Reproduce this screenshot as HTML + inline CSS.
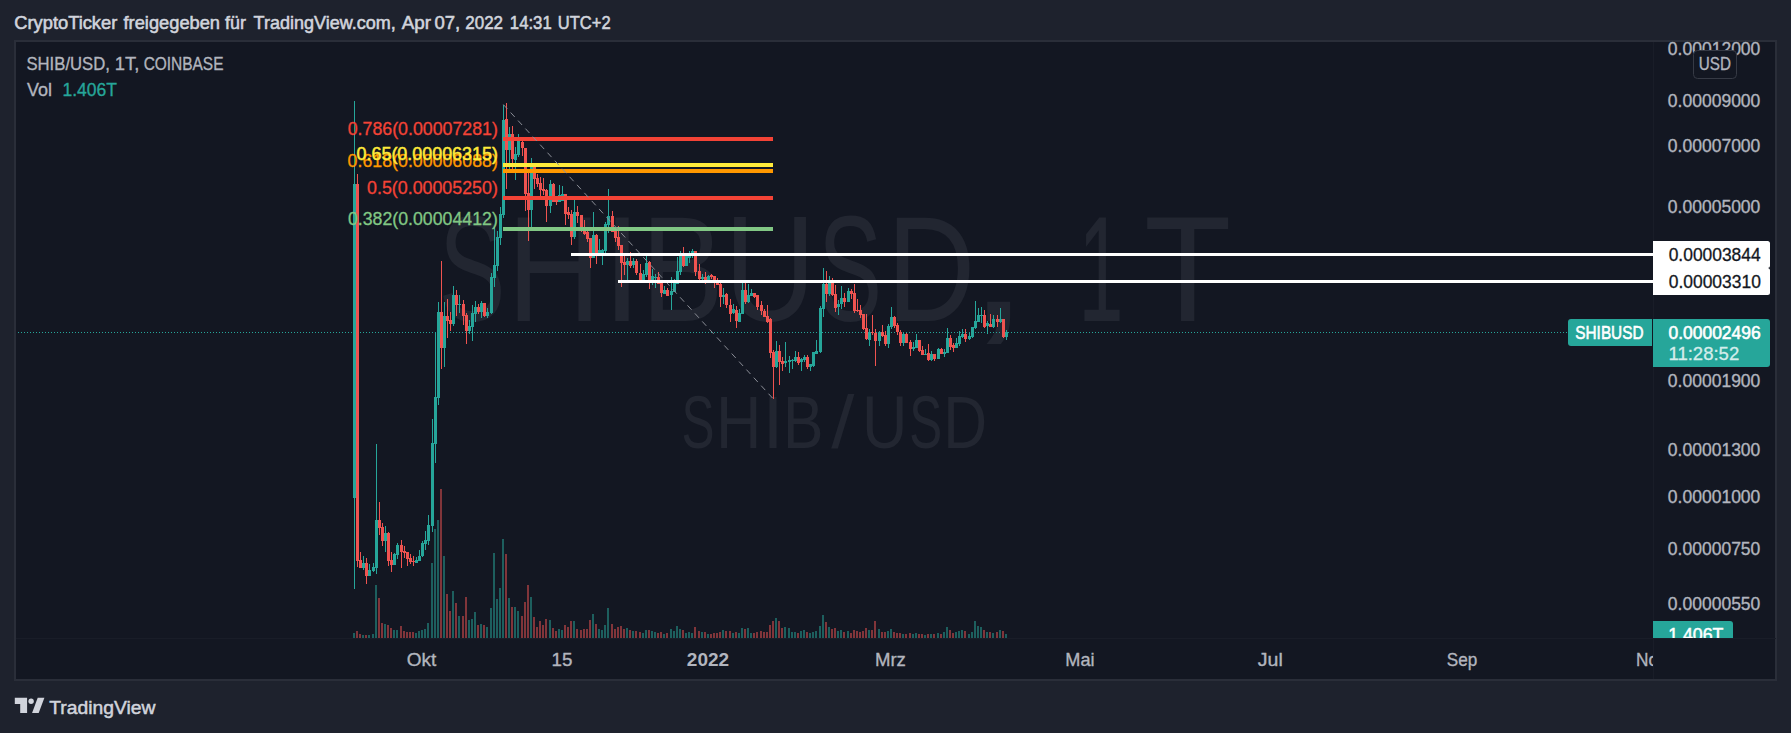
<!DOCTYPE html>
<html lang="de"><head><meta charset="utf-8"><title>SHIB/USD, 1T, COINBASE</title>
<style>
html,body{margin:0;padding:0;background:#1e222d;overflow:hidden}
svg{display:block}
text{font-family:"Liberation Sans", Arial, sans-serif;white-space:pre}
</style></head><body>
<svg width="1791" height="733" viewBox="0 0 1791 733">
<rect x="0" y="0" width="1791" height="733" fill="#1e222d"/>
<rect x="15" y="41" width="1761" height="639" fill="#131722" stroke="#2a2e39" stroke-width="2"/>

<text y="321.3" font-size="151" fill="#222631"><tspan x="438.8" textLength="66.64" lengthAdjust="spacingAndGlyphs">S</tspan><tspan x="507.03" textLength="94.31" lengthAdjust="spacingAndGlyphs">H</tspan><tspan x="602.1" textLength="39.95" lengthAdjust="spacingAndGlyphs">I</tspan><tspan x="641.32" textLength="82.29" lengthAdjust="spacingAndGlyphs">B</tspan><tspan x="724.18" textLength="91.5" lengthAdjust="spacingAndGlyphs">U</tspan><tspan x="818.08" textLength="63.99" lengthAdjust="spacingAndGlyphs">S</tspan><tspan x="886.79" textLength="88.49" lengthAdjust="spacingAndGlyphs">D</tspan></text>
<text x="965.0" y="321.3" font-size="180" fill="#222631" textLength="66.68" lengthAdjust="spacingAndGlyphs">,</text>
<text y="321.3" font-size="151" fill="#222631"><tspan x="1078.3" textLength="45.27" lengthAdjust="spacingAndGlyphs">1</tspan><tspan x="1144.08" textLength="87.36" lengthAdjust="spacingAndGlyphs">T</tspan></text>
<text y="447.6" font-size="75" fill="#222631"><tspan x="681.57" textLength="33.03" lengthAdjust="spacingAndGlyphs">S</tspan><tspan x="716.02" textLength="45.34" lengthAdjust="spacingAndGlyphs">H</tspan><tspan x="762.5" textLength="21.03" lengthAdjust="spacingAndGlyphs">I</tspan><tspan x="782.9" textLength="40.46" lengthAdjust="spacingAndGlyphs">B</tspan><tspan x="831.2" textLength="23.13" lengthAdjust="spacingAndGlyphs">/</tspan><tspan x="861.92" textLength="45.43" lengthAdjust="spacingAndGlyphs">U</tspan><tspan x="909.18" textLength="32.92" lengthAdjust="spacingAndGlyphs">S</tspan><tspan x="943.19" textLength="43.88" lengthAdjust="spacingAndGlyphs">D</tspan></text>
<rect x="1653" y="42" width="1" height="637" fill="#191d28"/>
<rect x="16" y="638" width="1760" height="1" fill="#191d28"/>
<path d="M18 332.5H1568" stroke="#26a69a" stroke-width="1" stroke-dasharray="1 2" fill="none"/>
<path fill="#1d5f5e" d="M353 633h2V638h-2zM362 635h2V638h-2zM368 635h2V638h-2zM372 634h2V638h-2zM375 585h2V638h-2zM384 624h2V638h-2zM393 630h2V638h-2zM396 630h2V638h-2zM415 633h2V638h-2zM418 631h2V638h-2zM421 630h2V638h-2zM424 629h2V638h-2zM427 623h2V638h-2zM431 563h2V638h-2zM434 529h2V638h-2zM437 520h2V638h-2zM443 556h2V638h-2zM452 591h2V638h-2zM458 616h2V638h-2zM468 620h2V638h-2zM471 619h2V638h-2zM474 612h2V638h-2zM480 624h2V638h-2zM486 627h2V638h-2zM490 608h2V638h-2zM493 553h2V638h-2zM496 599h2V638h-2zM499 588h2V638h-2zM502 539h2V638h-2zM508 598h2V638h-2zM514 607h2V638h-2zM517 611h2V638h-2zM530 597h2V638h-2zM549 620h2V638h-2zM558 629h2V638h-2zM561 630h2V638h-2zM573 621h2V638h-2zM592 614h2V638h-2zM598 629h2V638h-2zM601 630h2V638h-2zM604 625h2V638h-2zM607 608h2V638h-2zM626 628h2V638h-2zM632 631h2V638h-2zM642 633h2V638h-2zM645 630h2V638h-2zM651 631h2V638h-2zM654 632h2V638h-2zM663 634h2V638h-2zM670 629h2V638h-2zM673 631h2V638h-2zM676 626h2V638h-2zM679 629h2V638h-2zM685 633h2V638h-2zM688 632h2V638h-2zM691 633h2V638h-2zM701 632h2V638h-2zM707 634h2V638h-2zM722 630h2V638h-2zM732 633h2V638h-2zM738 633h2V638h-2zM741 628h2V638h-2zM747 628h2V638h-2zM750 633h2V638h-2zM775 618h2V638h-2zM784 627h2V638h-2zM788 628h2V638h-2zM791 632h2V638h-2zM794 632h2V638h-2zM800 631h2V638h-2zM803 630h2V638h-2zM809 633h2V638h-2zM812 632h2V638h-2zM815 631h2V638h-2zM819 626h2V638h-2zM822 615h2V638h-2zM828 627h2V638h-2zM837 631h2V638h-2zM840 630h2V638h-2zM847 631h2V638h-2zM868 630h2V638h-2zM878 629h2V638h-2zM887 631h2V638h-2zM890 629h2V638h-2zM902 634h2V638h-2zM912 634h2V638h-2zM915 633h2V638h-2zM924 635h2V638h-2zM930 634h2V638h-2zM937 633h2V638h-2zM943 632h2V638h-2zM946 627h2V638h-2zM955 632h2V638h-2zM958 631h2V638h-2zM961 630h2V638h-2zM968 634h2V638h-2zM971 632h2V638h-2zM974 621h2V638h-2zM977 626h2V638h-2zM980 627h2V638h-2zM986 632h2V638h-2zM992 633h2V638h-2zM999 630h2V638h-2zM1005 634h2V638h-2z"/>
<path fill="#81353a" d="M356 631h2V638h-2zM359 634h2V638h-2zM365 635h2V638h-2zM378 598h2V638h-2zM381 623h2V638h-2zM387 625h2V638h-2zM390 628h2V638h-2zM400 626h2V638h-2zM403 631h2V638h-2zM406 632h2V638h-2zM409 632h2V638h-2zM412 632h2V638h-2zM440 489h2V638h-2zM446 594h2V638h-2zM449 611h2V638h-2zM455 603h2V638h-2zM462 616h2V638h-2zM465 597h2V638h-2zM477 625h2V638h-2zM483 625h2V638h-2zM505 554h2V638h-2zM511 607h2V638h-2zM521 616h2V638h-2zM524 602h2V638h-2zM527 585h2V638h-2zM533 617h2V638h-2zM536 627h2V638h-2zM539 621h2V638h-2zM542 625h2V638h-2zM545 619h2V638h-2zM552 628h2V638h-2zM555 631h2V638h-2zM564 625h2V638h-2zM567 627h2V638h-2zM570 621h2V638h-2zM576 629h2V638h-2zM580 630h2V638h-2zM583 629h2V638h-2zM586 629h2V638h-2zM589 620h2V638h-2zM595 624h2V638h-2zM611 624h2V638h-2zM614 629h2V638h-2zM617 627h2V638h-2zM620 626h2V638h-2zM623 629h2V638h-2zM629 630h2V638h-2zM635 631h2V638h-2zM639 632h2V638h-2zM648 630h2V638h-2zM657 633h2V638h-2zM660 632h2V638h-2zM666 633h2V638h-2zM682 630h2V638h-2zM694 627h2V638h-2zM698 631h2V638h-2zM704 632h2V638h-2zM710 634h2V638h-2zM713 633h2V638h-2zM716 633h2V638h-2zM719 632h2V638h-2zM725 631h2V638h-2zM729 631h2V638h-2zM735 632h2V638h-2zM744 629h2V638h-2zM753 633h2V638h-2zM756 632h2V638h-2zM760 631h2V638h-2zM763 632h2V638h-2zM766 632h2V638h-2zM769 625h2V638h-2zM772 621h2V638h-2zM778 621h2V638h-2zM781 628h2V638h-2zM797 633h2V638h-2zM806 632h2V638h-2zM825 622h2V638h-2zM831 629h2V638h-2zM834 628h2V638h-2zM843 632h2V638h-2zM850 633h2V638h-2zM853 630h2V638h-2zM856 631h2V638h-2zM859 632h2V638h-2zM862 631h2V638h-2zM865 628h2V638h-2zM871 630h2V638h-2zM874 621h2V638h-2zM881 632h2V638h-2zM884 632h2V638h-2zM893 632h2V638h-2zM896 633h2V638h-2zM899 633h2V638h-2zM905 634h2V638h-2zM909 633h2V638h-2zM918 634h2V638h-2zM921 634h2V638h-2zM927 634h2V638h-2zM933 634h2V638h-2zM940 634h2V638h-2zM949 630h2V638h-2zM952 633h2V638h-2zM964 631h2V638h-2zM983 630h2V638h-2zM989 632h2V638h-2zM996 632h2V638h-2zM1002 631h2V638h-2z"/>
<path fill="#26a69a" d="M353 184h3V498h-3zM354 101h1V184h-1zM354 498h1V589h-1zM362 563h3V568h-3zM363 556h1V563h-1zM363 568h1V570h-1zM368 570h3V576h-3zM369 564h1V570h-1zM372 567h3V571h-3zM373 563h1V567h-1zM373 571h1V572h-1zM375 520h3V568h-3zM376 444h1V520h-1zM376 568h1V574h-1zM384 533h3V541h-3zM385 526h1V533h-1zM385 541h1V552h-1zM393 554h3V565h-3zM394 553h1V554h-1zM396 545h3V555h-3zM397 543h1V545h-1zM397 555h1V559h-1zM415 560h3V563h-3zM416 557h1V560h-1zM418 556h3V561h-3zM419 550h1V556h-1zM421 543h3V556h-3zM422 541h1V543h-1zM422 556h1V557h-1zM424 540h3V544h-3zM425 531h1V540h-1zM425 544h1V550h-1zM427 525h3V541h-3zM428 515h1V525h-1zM428 541h1V545h-1zM431 443h3V526h-3zM432 419h1V443h-1zM432 526h1V532h-1zM434 397h3V444h-3zM435 332h1V397h-1zM435 444h1V463h-1zM437 312h3V398h-3zM438 302h1V312h-1zM438 398h1V405h-1zM443 316h3V348h-3zM444 302h1V316h-1zM444 348h1V367h-1zM452 295h3V324h-3zM453 286h1V295h-1zM453 324h1V326h-1zM458 304h3V305h-3zM459 295h1V304h-1zM459 305h1V313h-1zM468 326h3V331h-3zM469 320h1V326h-1zM469 331h1V334h-1zM471 313h3V327h-3zM472 305h1V313h-1zM472 327h1V341h-1zM474 307h3V314h-3zM475 301h1V307h-1zM475 314h1V322h-1zM480 303h3V312h-3zM481 301h1V303h-1zM481 312h1V318h-1zM486 312h3V316h-3zM487 308h1V312h-1zM487 316h1V318h-1zM490 277h3V313h-3zM491 273h1V277h-1zM491 313h1V314h-1zM493 265h3V278h-3zM494 227h1V265h-1zM494 278h1V287h-1zM496 237h3V266h-3zM497 231h1V237h-1zM497 266h1V271h-1zM499 214h3V238h-3zM500 207h1V214h-1zM500 238h1V245h-1zM502 120h3V215h-3zM503 105h1V120h-1zM503 215h1V218h-1zM508 134h3V150h-3zM509 127h1V134h-1zM509 150h1V169h-1zM514 154h3V160h-3zM515 147h1V154h-1zM515 160h1V180h-1zM517 141h3V155h-3zM518 134h1V141h-1zM518 155h1V157h-1zM530 167h3V210h-3zM531 158h1V167h-1zM531 210h1V227h-1zM549 184h3V206h-3zM550 180h1V184h-1zM550 206h1V213h-1zM558 195h3V202h-3zM559 185h1V195h-1zM561 194h3V201h-3zM562 186h1V194h-1zM573 212h3V237h-3zM574 200h1V212h-1zM574 237h1V239h-1zM592 235h3V258h-3zM593 212h1V235h-1zM598 250h3V253h-3zM599 239h1V250h-1zM601 250h3V253h-3zM602 249h1V250h-1zM602 253h1V265h-1zM604 224h3V251h-3zM605 222h1V224h-1zM605 251h1V253h-1zM607 216h3V225h-3zM608 189h1V216h-1zM608 225h1V233h-1zM626 261h3V265h-3zM627 258h1V261h-1zM627 265h1V280h-1zM632 261h3V265h-3zM633 258h1V261h-1zM633 265h1V268h-1zM642 274h3V280h-3zM643 270h1V274h-1zM645 263h3V275h-3zM646 256h1V263h-1zM646 275h1V277h-1zM651 276h3V280h-3zM652 269h1V276h-1zM652 280h1V285h-1zM654 277h3V278h-3zM655 274h1V277h-1zM655 278h1V288h-1zM663 290h3V294h-3zM664 286h1V290h-1zM670 291h3V295h-3zM671 277h1V291h-1zM671 295h1V310h-1zM673 281h3V292h-3zM674 279h1V281h-1zM676 271h3V284h-3zM677 257h1V271h-1zM679 256h3V272h-3zM680 251h1V256h-1zM680 272h1V275h-1zM685 256h3V266h-3zM688 256h3V258h-3zM689 251h1V256h-1zM689 258h1V263h-1zM691 251h3V256h-3zM692 249h1V251h-1zM692 256h1V258h-1zM701 277h3V279h-3zM702 274h1V277h-1zM702 279h1V280h-1zM707 276h3V280h-3zM708 275h1V276h-1zM722 295h3V297h-3zM723 288h1V295h-1zM723 297h1V304h-1zM732 309h3V313h-3zM733 304h1V309h-1zM733 313h1V314h-1zM738 313h3V322h-3zM739 309h1V313h-1zM741 290h3V314h-3zM742 283h1V290h-1zM747 295h3V302h-3zM748 284h1V295h-1zM748 302h1V303h-1zM750 293h3V296h-3zM751 289h1V293h-1zM775 351h3V367h-3zM776 341h1V351h-1zM776 367h1V368h-1zM784 361h3V363h-3zM785 342h1V361h-1zM785 363h1V367h-1zM788 360h3V362h-3zM789 356h1V360h-1zM789 362h1V373h-1zM791 360h3V361h-3zM792 359h1V360h-1zM792 361h1V369h-1zM794 357h3V361h-3zM795 351h1V357h-1zM795 361h1V362h-1zM800 359h3V362h-3zM801 358h1V359h-1zM801 362h1V371h-1zM803 357h3V360h-3zM804 355h1V357h-1zM804 360h1V362h-1zM809 364h3V367h-3zM810 367h1V371h-1zM812 352h3V366h-3zM813 366h1V367h-1zM815 351h3V354h-3zM816 340h1V351h-1zM819 308h3V352h-3zM820 306h1V308h-1zM820 352h1V353h-1zM822 284h3V309h-3zM823 268h1V284h-1zM823 309h1V317h-1zM828 283h3V294h-3zM829 276h1V283h-1zM829 294h1V296h-1zM837 304h3V307h-3zM838 300h1V304h-1zM838 307h1V315h-1zM840 298h3V304h-3zM841 286h1V298h-1zM841 304h1V309h-1zM847 291h3V302h-3zM848 288h1V291h-1zM868 332h3V340h-3zM869 329h1V332h-1zM869 340h1V346h-1zM878 332h3V341h-3zM879 331h1V332h-1zM879 341h1V346h-1zM887 326h3V344h-3zM888 324h1V326h-1zM888 344h1V348h-1zM890 317h3V327h-3zM891 307h1V317h-1zM891 327h1V329h-1zM902 334h3V343h-3zM903 332h1V334h-1zM903 343h1V346h-1zM912 347h3V349h-3zM913 342h1V347h-1zM913 349h1V351h-1zM915 340h3V348h-3zM916 334h1V340h-1zM924 354h3V355h-3zM925 349h1V354h-1zM930 354h3V360h-3zM931 351h1V354h-1zM931 360h1V361h-1zM937 349h3V359h-3zM938 348h1V349h-1zM943 352h3V354h-3zM944 349h1V352h-1zM944 354h1V357h-1zM946 338h3V353h-3zM947 328h1V338h-1zM955 343h3V348h-3zM956 338h1V343h-1zM958 336h3V344h-3zM959 331h1V336h-1zM959 344h1V346h-1zM961 334h3V337h-3zM962 329h1V334h-1zM962 337h1V338h-1zM968 336h3V339h-3zM969 332h1V336h-1zM969 339h1V340h-1zM971 327h3V337h-3zM972 337h1V338h-1zM974 321h3V328h-3zM975 301h1V321h-1zM975 328h1V329h-1zM977 315h3V322h-3zM978 308h1V315h-1zM980 315h3V316h-3zM981 307h1V315h-1zM981 316h1V323h-1zM986 323h3V326h-3zM987 321h1V323h-1zM987 326h1V334h-1zM992 319h3V327h-3zM993 315h1V319h-1zM993 327h1V328h-1zM999 319h3V322h-3zM1000 308h1V319h-1zM1000 322h1V323h-1zM1005 332h3V337h-3zM1006 330h1V332h-1zM1006 337h1V340h-1z"/>
<path fill="#ef5350" d="M356 184h3V561h-3zM357 174h1V184h-1zM357 561h1V567h-1zM359 560h3V568h-3zM360 552h1V560h-1zM365 563h3V576h-3zM366 558h1V563h-1zM366 576h1V584h-1zM378 520h3V528h-3zM379 502h1V520h-1zM379 528h1V535h-1zM381 527h3V541h-3zM382 523h1V527h-1zM382 541h1V546h-1zM387 533h3V561h-3zM388 532h1V533h-1zM388 561h1V566h-1zM390 560h3V565h-3zM391 552h1V560h-1zM391 565h1V572h-1zM400 545h3V552h-3zM401 540h1V545h-1zM401 552h1V568h-1zM403 551h3V553h-3zM404 546h1V551h-1zM404 553h1V558h-1zM406 552h3V559h-3zM407 559h1V566h-1zM409 558h3V562h-3zM410 554h1V558h-1zM410 562h1V564h-1zM412 561h3V562h-3zM413 556h1V561h-1zM413 562h1V566h-1zM440 312h3V348h-3zM441 261h1V312h-1zM441 348h1V369h-1zM446 316h3V321h-3zM447 299h1V316h-1zM447 321h1V338h-1zM449 320h3V324h-3zM450 312h1V320h-1zM450 324h1V331h-1zM455 295h3V305h-3zM456 290h1V295h-1zM456 305h1V316h-1zM462 304h3V316h-3zM463 300h1V304h-1zM463 316h1V325h-1zM465 315h3V331h-3zM466 313h1V315h-1zM466 331h1V344h-1zM477 307h3V312h-3zM478 304h1V307h-1zM478 312h1V314h-1zM483 303h3V316h-3zM484 316h1V317h-1zM505 119h3V150h-3zM506 103h1V119h-1zM506 150h1V189h-1zM511 134h3V159h-3zM512 126h1V134h-1zM512 159h1V169h-1zM521 142h3V148h-3zM522 141h1V142h-1zM522 148h1V156h-1zM524 148h3V194h-3zM525 194h1V211h-1zM527 193h3V210h-3zM528 173h1V193h-1zM528 210h1V241h-1zM533 167h3V179h-3zM534 179h1V189h-1zM536 178h3V184h-3zM537 174h1V178h-1zM537 184h1V187h-1zM539 183h3V190h-3zM540 177h1V183h-1zM540 190h1V196h-1zM542 189h3V191h-3zM543 178h1V189h-1zM543 191h1V195h-1zM545 190h3V206h-3zM546 189h1V190h-1zM546 206h1V222h-1zM552 184h3V202h-3zM553 183h1V184h-1zM555 197h3V202h-3zM556 196h1V197h-1zM556 202h1V205h-1zM564 194h3V214h-3zM565 214h1V225h-1zM567 212h3V215h-3zM568 207h1V212h-1zM568 215h1V219h-1zM570 214h3V237h-3zM571 210h1V214h-1zM571 237h1V245h-1zM576 212h3V216h-3zM577 206h1V212h-1zM577 216h1V223h-1zM580 215h3V229h-3zM581 229h1V232h-1zM583 231h3V234h-3zM584 220h1V231h-1zM584 234h1V235h-1zM586 232h3V239h-3zM587 231h1V232h-1zM587 239h1V242h-1zM589 238h3V258h-3zM590 258h1V268h-1zM595 235h3V255h-3zM596 234h1V235h-1zM596 255h1V264h-1zM611 216h3V232h-3zM612 211h1V216h-1zM614 229h3V238h-3zM615 238h1V242h-1zM617 237h3V246h-3zM618 226h1V237h-1zM618 246h1V250h-1zM620 245h3V263h-3zM621 263h1V287h-1zM623 262h3V265h-3zM624 256h1V262h-1zM624 265h1V275h-1zM629 261h3V266h-3zM630 252h1V261h-1zM630 266h1V268h-1zM635 261h3V273h-3zM636 259h1V261h-1zM636 273h1V275h-1zM639 273h3V280h-3zM640 264h1V273h-1zM648 262h3V281h-3zM649 261h1V262h-1zM649 281h1V289h-1zM657 277h3V284h-3zM658 272h1V277h-1zM660 283h3V293h-3zM661 281h1V283h-1zM661 293h1V297h-1zM666 290h3V296h-3zM667 288h1V290h-1zM682 256h3V266h-3zM683 247h1V256h-1zM683 266h1V267h-1zM694 251h3V272h-3zM695 272h1V276h-1zM698 271h3V279h-3zM699 264h1V271h-1zM699 279h1V280h-1zM704 277h3V280h-3zM705 272h1V277h-1zM705 280h1V284h-1zM710 275h3V277h-3zM711 274h1V275h-1zM711 277h1V279h-1zM713 276h3V281h-3zM714 281h1V288h-1zM716 280h3V285h-3zM717 278h1V280h-1zM719 284h3V297h-3zM720 283h1V284h-1zM720 297h1V307h-1zM725 294h3V305h-3zM726 293h1V294h-1zM726 305h1V308h-1zM729 305h3V314h-3zM730 299h1V305h-1zM730 314h1V322h-1zM735 310h3V321h-3zM736 306h1V310h-1zM736 321h1V328h-1zM744 290h3V302h-3zM745 283h1V290h-1zM745 302h1V304h-1zM753 293h3V297h-3zM754 297h1V298h-1zM756 295h3V307h-3zM757 307h1V310h-1zM760 305h3V311h-3zM761 301h1V305h-1zM761 311h1V315h-1zM763 311h3V317h-3zM764 309h1V311h-1zM766 316h3V322h-3zM767 305h1V316h-1zM767 322h1V323h-1zM769 319h3V353h-3zM770 318h1V319h-1zM770 353h1V358h-1zM772 352h3V367h-3zM773 350h1V352h-1zM773 367h1V399h-1zM778 351h3V362h-3zM779 345h1V351h-1zM779 362h1V385h-1zM781 361h3V364h-3zM782 357h1V361h-1zM782 364h1V371h-1zM797 357h3V363h-3zM798 352h1V357h-1zM798 363h1V365h-1zM806 357h3V367h-3zM807 355h1V357h-1zM807 367h1V369h-1zM825 284h3V294h-3zM826 271h1V284h-1zM826 294h1V302h-1zM831 283h3V295h-3zM832 278h1V283h-1zM832 295h1V296h-1zM834 294h3V308h-3zM835 285h1V294h-1zM835 308h1V312h-1zM843 298h3V302h-3zM844 293h1V298h-1zM844 302h1V307h-1zM850 291h3V294h-3zM851 289h1V291h-1zM851 294h1V299h-1zM853 293h3V311h-3zM854 284h1V293h-1zM854 311h1V313h-1zM856 310h3V311h-3zM857 299h1V310h-1zM857 311h1V312h-1zM859 310h3V315h-3zM860 305h1V310h-1zM860 315h1V318h-1zM862 314h3V329h-3zM863 329h1V330h-1zM865 328h3V339h-3zM866 314h1V328h-1zM866 339h1V340h-1zM871 332h3V333h-3zM872 315h1V332h-1zM872 333h1V335h-1zM874 333h3V341h-3zM875 329h1V333h-1zM875 341h1V366h-1zM881 332h3V336h-3zM882 325h1V332h-1zM882 336h1V337h-1zM884 335h3V344h-3zM885 331h1V335h-1zM885 344h1V346h-1zM893 317h3V326h-3zM894 316h1V317h-1zM894 326h1V328h-1zM896 325h3V332h-3zM897 323h1V325h-1zM897 332h1V335h-1zM899 332h3V343h-3zM900 330h1V332h-1zM900 343h1V346h-1zM905 334h3V343h-3zM906 333h1V334h-1zM909 342h3V349h-3zM910 340h1V342h-1zM910 349h1V356h-1zM918 340h3V351h-3zM919 351h1V352h-1zM921 350h3V355h-3zM922 346h1V350h-1zM927 353h3V360h-3zM928 344h1V353h-1zM928 360h1V361h-1zM933 354h3V359h-3zM934 359h1V361h-1zM940 349h3V354h-3zM941 348h1V349h-1zM949 338h3V347h-3zM950 335h1V338h-1zM950 347h1V350h-1zM952 345h3V348h-3zM953 343h1V345h-1zM953 348h1V352h-1zM964 334h3V339h-3zM965 329h1V334h-1zM965 339h1V342h-1zM983 315h3V327h-3zM984 310h1V315h-1zM984 327h1V328h-1zM989 324h3V327h-3zM990 314h1V324h-1zM996 319h3V322h-3zM997 315h1V319h-1zM997 322h1V327h-1zM1002 319h3V337h-3zM1003 337h1V338h-1z"/>
<rect x="503" y="137" width="270" height="4" fill="#f44336"/>
<rect x="503" y="163" width="270" height="4" fill="#ffeb3b"/>
<rect x="503" y="169" width="270" height="4" fill="#ff9800"/>
<rect x="503" y="196" width="270" height="4" fill="#f44336"/>
<rect x="503" y="227" width="270" height="4" fill="#81c784"/>
<path d="M503.3 104.5L774.3 400" stroke="#8a8d96" stroke-width="1" stroke-dasharray="6 4.9" fill="none"/>
<rect x="571" y="253" width="1082" height="3" fill="#fff"/>
<rect x="618" y="280" width="1035" height="3" fill="#fff"/>
<text x="347.69" y="134.6" font-size="18" fill="#f44336" stroke="#f44336" stroke-width="0.3" textLength="150.17" lengthAdjust="spacingAndGlyphs">0.786(0.00007281)</text>
<text x="347.59" y="166.6" font-size="18" fill="#ff9800" stroke="#ff9800" stroke-width="0.3" textLength="150.27" lengthAdjust="spacingAndGlyphs">0.618(0.00006088)</text>
<text x="356.58" y="160.4" font-size="18" fill="#ffeb3b" stroke="#ffeb3b" stroke-width="0.5" textLength="141.3" lengthAdjust="spacingAndGlyphs">0.65(0.00006315)</text>
<text x="367.09" y="193.5" font-size="18" fill="#f44336" stroke="#f44336" stroke-width="0.3" textLength="130.77" lengthAdjust="spacingAndGlyphs">0.5(0.00005250)</text>
<text x="347.89" y="224.6" font-size="18" fill="#81c784" stroke="#81c784" stroke-width="0.3" textLength="149.96" lengthAdjust="spacingAndGlyphs">0.382(0.00004412)</text>
<text x="1667.8" y="55.4" font-size="18" fill="#b2b5be" stroke="#b2b5be" stroke-width="0.35" textLength="92.57" lengthAdjust="spacingAndGlyphs">0.00012000</text>
<text x="1667.8" y="107.2" font-size="18" fill="#b2b5be" stroke="#b2b5be" stroke-width="0.35" textLength="92.57" lengthAdjust="spacingAndGlyphs">0.00009000</text>
<text x="1667.8" y="152.4" font-size="18" fill="#b2b5be" stroke="#b2b5be" stroke-width="0.35" textLength="92.57" lengthAdjust="spacingAndGlyphs">0.00007000</text>
<text x="1667.8" y="213.0" font-size="18" fill="#b2b5be" stroke="#b2b5be" stroke-width="0.35" textLength="92.57" lengthAdjust="spacingAndGlyphs">0.00005000</text>
<text x="1667.8" y="387.1" font-size="18" fill="#b2b5be" stroke="#b2b5be" stroke-width="0.35" textLength="92.57" lengthAdjust="spacingAndGlyphs">0.00001900</text>
<text x="1667.8" y="455.5" font-size="18" fill="#b2b5be" stroke="#b2b5be" stroke-width="0.35" textLength="92.57" lengthAdjust="spacingAndGlyphs">0.00001300</text>
<text x="1667.8" y="502.7" font-size="18" fill="#b2b5be" stroke="#b2b5be" stroke-width="0.35" textLength="92.57" lengthAdjust="spacingAndGlyphs">0.00001000</text>
<text x="1667.8" y="554.5" font-size="18" fill="#b2b5be" stroke="#b2b5be" stroke-width="0.35" textLength="92.57" lengthAdjust="spacingAndGlyphs">0.00000750</text>
<text x="1667.8" y="610.3" font-size="18" fill="#b2b5be" stroke="#b2b5be" stroke-width="0.35" textLength="92.57" lengthAdjust="spacingAndGlyphs">0.00000550</text>
<rect x="1693.5" y="50.5" width="43" height="28" rx="4" fill="#131722" stroke="#363a45" stroke-width="1"/>
<text x="1698.82" y="69.5" font-size="17.9" fill="#b2b5be" stroke="#b2b5be" stroke-width="0.35" textLength="32.19" lengthAdjust="spacingAndGlyphs">USD</text>
<path d="M1653 241h114.5a2.5 2.5 0 0 1 2.5 2.5v22a2.5 2.5 0 0 1 -2.5 2.5h-114.5z" fill="#fff"/>
<path d="M1653 268h114.5a2.5 2.5 0 0 1 2.5 2.5v22a2.5 2.5 0 0 1 -2.5 2.5h-114.5z" fill="#fff"/>
<text x="1668.7" y="260.9" font-size="18" fill="#131722" stroke="#131722" stroke-width="0.3" textLength="91.99" lengthAdjust="spacingAndGlyphs">0.00003844</text>
<text x="1668.7" y="287.9" font-size="18" fill="#131722" stroke="#131722" stroke-width="0.3" textLength="92.17" lengthAdjust="spacingAndGlyphs">0.00003310</text>
<path d="M1571 319h81v27h-81a3 3 0 0 1 -3 -3v-21a3 3 0 0 1 3 -3z" fill="#26a69a"/>
<path d="M1653 319h114a3 3 0 0 1 3 3v42a3 3 0 0 1 -3 3h-114z" fill="#26a69a"/>
<text x="1575.31" y="338.9" font-size="18.7" fill="#fff" stroke="#fff" stroke-width="0.6" textLength="68.23" lengthAdjust="spacingAndGlyphs">SHIBUSD</text>
<text x="1668.5" y="338.9" font-size="18" fill="#fff" stroke="#fff" stroke-width="0.6" textLength="92.15" lengthAdjust="spacingAndGlyphs">0.00002496</text>
<text x="1668.51" y="359.8" font-size="18" fill="#d4edeb" stroke="#d4edeb" stroke-width="0.3" textLength="70.73" lengthAdjust="spacingAndGlyphs">11:28:52</text>
<path d="M1653 621h77a3 3 0 0 1 3 3v14h-80z" fill="#26a69a"/>
<clipPath id="cv"><rect x="1653" y="621" width="100" height="17"/></clipPath>
<text x="1668.17" y="641" font-size="18" fill="#fff" stroke="#fff" stroke-width="0.5" textLength="55.25" lengthAdjust="spacingAndGlyphs" clip-path="url(#cv)">1.406T</text>
<text x="406.85" y="665.7" font-size="18.4" fill="#b2b5be" stroke="#b2b5be" stroke-width="0.35" textLength="29.56" lengthAdjust="spacingAndGlyphs">Okt</text>
<text x="551.44" y="665.7" font-size="18.4" fill="#b2b5be" stroke="#b2b5be" stroke-width="0.35" textLength="20.91" lengthAdjust="spacingAndGlyphs">15</text>
<text x="686.88" y="665.7" font-size="18.4" fill="#b2b5be" font-weight="bold" textLength="42.32" lengthAdjust="spacingAndGlyphs">2022</text>
<text x="874.92" y="665.7" font-size="18.4" fill="#b2b5be" stroke="#b2b5be" stroke-width="0.35" textLength="30.98" lengthAdjust="spacingAndGlyphs">Mrz</text>
<text x="1065.36" y="665.7" font-size="18.4" fill="#b2b5be" stroke="#b2b5be" stroke-width="0.35" textLength="29.2" lengthAdjust="spacingAndGlyphs">Mai</text>
<text x="1257.71" y="665.7" font-size="18.4" fill="#b2b5be" stroke="#b2b5be" stroke-width="0.35" textLength="25.03" lengthAdjust="spacingAndGlyphs">Jul</text>
<text x="1446.73" y="665.7" font-size="18.4" fill="#b2b5be" stroke="#b2b5be" stroke-width="0.35" textLength="30.49" lengthAdjust="spacingAndGlyphs">Sep</text>
<clipPath id="ct"><rect x="16" y="639" width="1637" height="40"/></clipPath>
<text x="1635.98" y="665.7" font-size="18.4" fill="#b2b5be" stroke="#b2b5be" stroke-width="0.35" textLength="30.68" lengthAdjust="spacingAndGlyphs" clip-path="url(#ct)">Nov</text>
<text y="69.6" font-size="18.7" fill="#b2b5be" stroke="#b2b5be" stroke-width="0.35"><tspan x="26.45" textLength="83.47" lengthAdjust="spacingAndGlyphs">SHIB/USD,</tspan> <tspan x="114.72" textLength="24.57" lengthAdjust="spacingAndGlyphs">1T,</tspan> <tspan x="143.63" textLength="79.84" lengthAdjust="spacingAndGlyphs">COINBASE</tspan></text>
<text x="27.11" y="95.9" font-size="18.4" fill="#b2b5be" stroke="#b2b5be" stroke-width="0.35" textLength="25.01" lengthAdjust="spacingAndGlyphs">Vol</text>
<text x="62.49" y="95.9" font-size="18.2" fill="#26a69a" stroke="#26a69a" stroke-width="0.35" textLength="54.42" lengthAdjust="spacingAndGlyphs">1.406T</text>
<text y="28.7" font-size="17.7" fill="#d1d4dc" stroke="#d1d4dc" stroke-width="0.55"><tspan x="14.29" textLength="103.0" lengthAdjust="spacingAndGlyphs">CryptoTicker</tspan> <tspan x="123.53" textLength="96.51" lengthAdjust="spacingAndGlyphs">freigegeben</tspan> <tspan x="225.13" textLength="20.83" lengthAdjust="spacingAndGlyphs">für</tspan> <tspan x="253.64" textLength="142.08" lengthAdjust="spacingAndGlyphs">TradingView.com,</tspan> <tspan x="401.65" textLength="29.25" lengthAdjust="spacingAndGlyphs">Apr</tspan> <tspan x="434.46" textLength="25.71" lengthAdjust="spacingAndGlyphs">07,</tspan> <tspan x="465.25" textLength="37.84" lengthAdjust="spacingAndGlyphs">2022</tspan> <tspan x="509.85" textLength="41.85" lengthAdjust="spacingAndGlyphs">14:31</tspan> <tspan x="557.82" textLength="52.81" lengthAdjust="spacingAndGlyphs">UTC+2</tspan></text>
<g fill="#d1d4dc"><path d="M14.8 697.8H27.1V713H20.2V704H14.8Z"/><circle cx="31.1" cy="701.3" r="2.7"/><path d="M37.7 697.8H44.4L38.7 713H32.1Z"/></g>
<text x="49.17" y="713.5" font-size="18.7" fill="#d1d4dc" stroke="#d1d4dc" stroke-width="0.5" textLength="106.3" lengthAdjust="spacingAndGlyphs">TradingView</text>
</svg></body></html>
